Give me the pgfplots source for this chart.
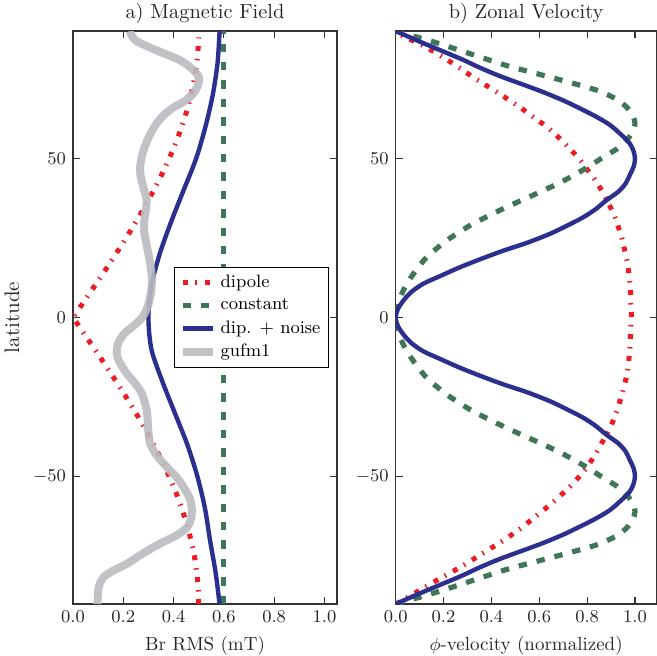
\documentclass[border=0pt]{standalone}
\usepackage{pgfplots}
\pgfplotsset{compat=1.18}
\definecolor{dipred}{RGB}{237,28,36}
\definecolor{constgreen}{RGB}{64,118,88}
\definecolor{noiseblue}{RGB}{43,48,143}
\definecolor{gufmgray}{RGB}{186,187,191}

\pgfplotsset{
  panel/.style={
    scale only axis, height=286.5pt, anchor=south west,
    xmin=0, ymin=-90, ymax=90,
    xtick={0,0.2,0.4,0.6,0.8,1}, ytick={-50,0,50},
    xticklabel style={/pgf/number format/.cd, fixed, fixed zerofill, precision=1},
    tick label style={font=\fontsize{9.2}{11}\selectfont, text=black!85},
    xlabel style={font=\fontsize{9.5}{11}\selectfont, text=black!85},
    ylabel style={font=\fontsize{10.5}{12}\selectfont, text=black!85},
    title style={font=\fontsize{10.2}{12}\selectfont, text=black!85, yshift=-6pt},
    major tick length=3.5pt,
    axis line style={line width=0.7pt, black!80},
    every tick/.style={black!80, line width=0.6pt},
    legend image code/.code={\draw[##1] (0pt,0pt) -- (15pt,0pt);},
  },
  dipst/.style={dipred, line width=2.5pt, dash pattern=on 2.5pt off 3.75pt on 0.75pt off 4pt},
  conststyle/.style={constgreen, line width=2.6pt, dash pattern=on 4.2pt off 5pt},
  noisest/.style={noiseblue, line width=2.2pt},
  gufmst/.style={gufmgray, line width=4pt, opacity=0.9},
}

\begin{document}
\begin{tikzpicture}
\useasboundingbox (0,0) rectangle (328.5pt,327.5pt);

% ---- a) magnetic field ----
\begin{axis}[panel, at={(36.5pt,25.5pt)}, width=132pt, xmax=1.05,
  title={a) Magnetic Field}, xlabel={Br RMS (mT)}, ylabel={latitude},
  legend style={at={(0.97,0.5)}, anchor=east, draw=black, line width=0.6pt,
    font=\fontsize{9}{10}\selectfont, row sep=0pt, inner sep=2pt,
    legend cell align=left},
]
\addplot[dipst] coordinates {
(0.5,-90) (0.4981,-85) (0.4924,-80) (0.4830,-75) (0.4698,-70) (0.4532,-65)
(0.4330,-60) (0.4096,-55) (0.3830,-50) (0.3536,-45) (0.3214,-40) (0.2868,-35)
(0.25,-30) (0.2113,-25) (0.1710,-20) (0.1294,-15) (0.0868,-10) (0.0436,-5)
(0,0) (0.0436,5) (0.0868,10) (0.1294,15) (0.1710,20) (0.2113,25) (0.25,30)
(0.2868,35) (0.3214,40) (0.3536,45) (0.3830,50) (0.4096,55) (0.4330,60)
(0.4532,65) (0.4698,70) (0.4830,75) (0.4924,80) (0.4981,85) (0.5,88)
};
\addlegendentry{dipole}
\addplot[conststyle] coordinates {(0.6,-90) (0.6,90)};
\addlegendentry{constant}
\addplot[noisest, smooth] coordinates {
(0.583,-90) (0.567,-80) (0.545,-70) (0.525,-60) (0.495,-50) (0.455,-40)
(0.405,-30) (0.355,-20) (0.312,-10) (0.300,0) (0.312,10) (0.345,20)
(0.390,30) (0.440,40) (0.490,50) (0.527,60) (0.556,70) (0.575,80) (0.583,90)
};
\addlegendentry{dip. + noise}
\addplot[gufmst, smooth] coordinates {
(0.097,-90) (0.100,-86) (0.105,-84) (0.121,-81.6) (0.16,-79.5) (0.214,-77.4)
(0.28,-74) (0.347,-71) (0.41,-68.5) (0.453,-66) (0.468,-63.5) (0.473,-60.6)
(0.465,-57) (0.44,-53.3) (0.41,-50) (0.373,-47) (0.33,-43) (0.307,-39.6)
(0.300,-36) (0.296,-31) (0.29,-28) (0.274,-24) (0.25,-21) (0.214,-17.6)
(0.185,-14) (0.174,-11.4) (0.18,-8) (0.205,-5) (0.25,-2) (0.275,0)
(0.29,2) (0.304,5.3) (0.312,9) (0.313,13) (0.305,18) (0.292,23) (0.283,27)
(0.283,30) (0.29,34) (0.293,37) (0.283,40) (0.27,44) (0.267,47.3)
(0.275,51) (0.29,54.6) (0.31,58) (0.333,61) (0.36,63.5) (0.40,66)
(0.445,68) (0.48,70.5) (0.497,73) (0.50,75.6) (0.475,78) (0.426,80.8)
(0.33,84) (0.25,87) (0.225,90)
};
\addlegendentry{gufm1}
\end{axis}

% ---- b) zonal velocity ----
\begin{axis}[panel, at={(197.85pt,25.5pt)}, width=130.4pt, xmax=1.09,
  title={b) Zonal Velocity}, xlabel={$\phi$-velocity (normalized)},
]
\addplot[dipst, smooth] coordinates {
(0,-90) (0.06,-87.5) (0.12,-84.8) (0.199,-81.4) (0.28,-78) (0.359,-74.3)
(0.44,-70.5) (0.512,-66.8) (0.585,-62.5) (0.656,-58.1) (0.73,-53)
(0.788,-48.1) (0.84,-42.3) (0.909,-32.4) (0.948,-23.5) (0.969,-16.7)
(0.978,-10) (0.983,-2.5) (0.985,0) (0.983,4.3) (0.98,10) (0.969,16.9)
(0.96,20) (0.945,25) (0.916,31.5) (0.895,35) (0.86,40) (0.83,43.6)
(0.805,46) (0.765,50) (0.707,54.6) (0.675,57) (0.63,60) (0.565,63.5)
(0.52,66) (0.44,70) (0.334,75) (0.235,80) (0.17,83) (0.10,86) (0.04,88) (0,90)
};
\addplot[conststyle, smooth] coordinates {
(0,-90) (0.07,-88.5) (0.14,-87) (0.245,-84.5) (0.35,-81.9) (0.47,-79)
(0.59,-76.6) (0.72,-74) (0.84,-71.4) (0.92,-68.7) (0.965,-66.1) (0.99,-63.5)
(1.0,-61) (0.99,-58.3) (0.965,-55.7) (0.925,-53) (0.868,-50.4) (0.815,-47.8)
(0.756,-45.2) (0.69,-42.5) (0.617,-39.9) (0.54,-37.3) (0.464,-34.7)
(0.39,-32) (0.324,-29.5) (0.265,-26.8) (0.213,-24.2) (0.168,-21.5)
(0.13,-19) (0.1,-16.3) (0.074,-13.7) (0.05,-11) (0.032,-8.5) (0.02,-6.5)
(0.011,-4.3) (0.003,-2) (0,0)
(0.003,2) (0.011,4.3) (0.02,6.5) (0.032,8.5) (0.05,11) (0.074,13.7)
(0.1,16.3) (0.13,19) (0.168,21.5) (0.213,24.2) (0.265,26.8) (0.324,29.5)
(0.39,32) (0.464,34.7) (0.54,37.3) (0.617,39.9) (0.69,42.5) (0.756,45.2)
(0.815,47.8) (0.868,50.4) (0.925,53) (0.965,55.7) (0.99,58.3) (1.0,61)
(0.99,63.5) (0.965,66.1) (0.92,68.7) (0.84,71.4) (0.72,74) (0.59,76.6)
(0.47,79) (0.35,81.9) (0.245,84.5) (0.14,87) (0.07,88.5) (0,90)
};
\addplot[noisest, smooth] coordinates {
(0,-90) (0.09,-87) (0.185,-84) (0.28,-81) (0.345,-78.7) (0.43,-76)
(0.52,-73.5) (0.61,-71) (0.70,-68.2) (0.775,-65.5) (0.84,-63) (0.895,-60.5)
(0.937,-57.8) (0.975,-55) (0.993,-52.5) (1.0,-50) (0.995,-47.5) (0.98,-45)
(0.96,-42) (0.93,-39.5) (0.88,-36.8) (0.835,-34) (0.784,-31.5) (0.72,-29)
(0.645,-26.3) (0.55,-23.5) (0.45,-21) (0.36,-18.5) (0.269,-15.8)
(0.185,-13) (0.115,-10.6) (0.065,-8) (0.032,-5.3) (0.008,-2.5) (0,0)
(0.008,2.5) (0.032,5.3) (0.065,8) (0.115,10.6) (0.185,13) (0.269,15.8)
(0.36,18.5) (0.45,21) (0.55,23.5) (0.645,26.3) (0.72,29) (0.784,31.5)
(0.835,34) (0.88,36.8) (0.93,39.5) (0.96,42) (0.98,45) (0.995,47.5)
(1.0,50) (0.993,52.5) (0.975,55) (0.937,57.8) (0.895,60.5) (0.84,63)
(0.775,65.5) (0.70,68.2) (0.61,71) (0.52,73.5) (0.43,76) (0.345,78.7)
(0.28,81) (0.185,84) (0.09,87) (0,90)
};
\end{axis}
\end{tikzpicture}
\end{document}
